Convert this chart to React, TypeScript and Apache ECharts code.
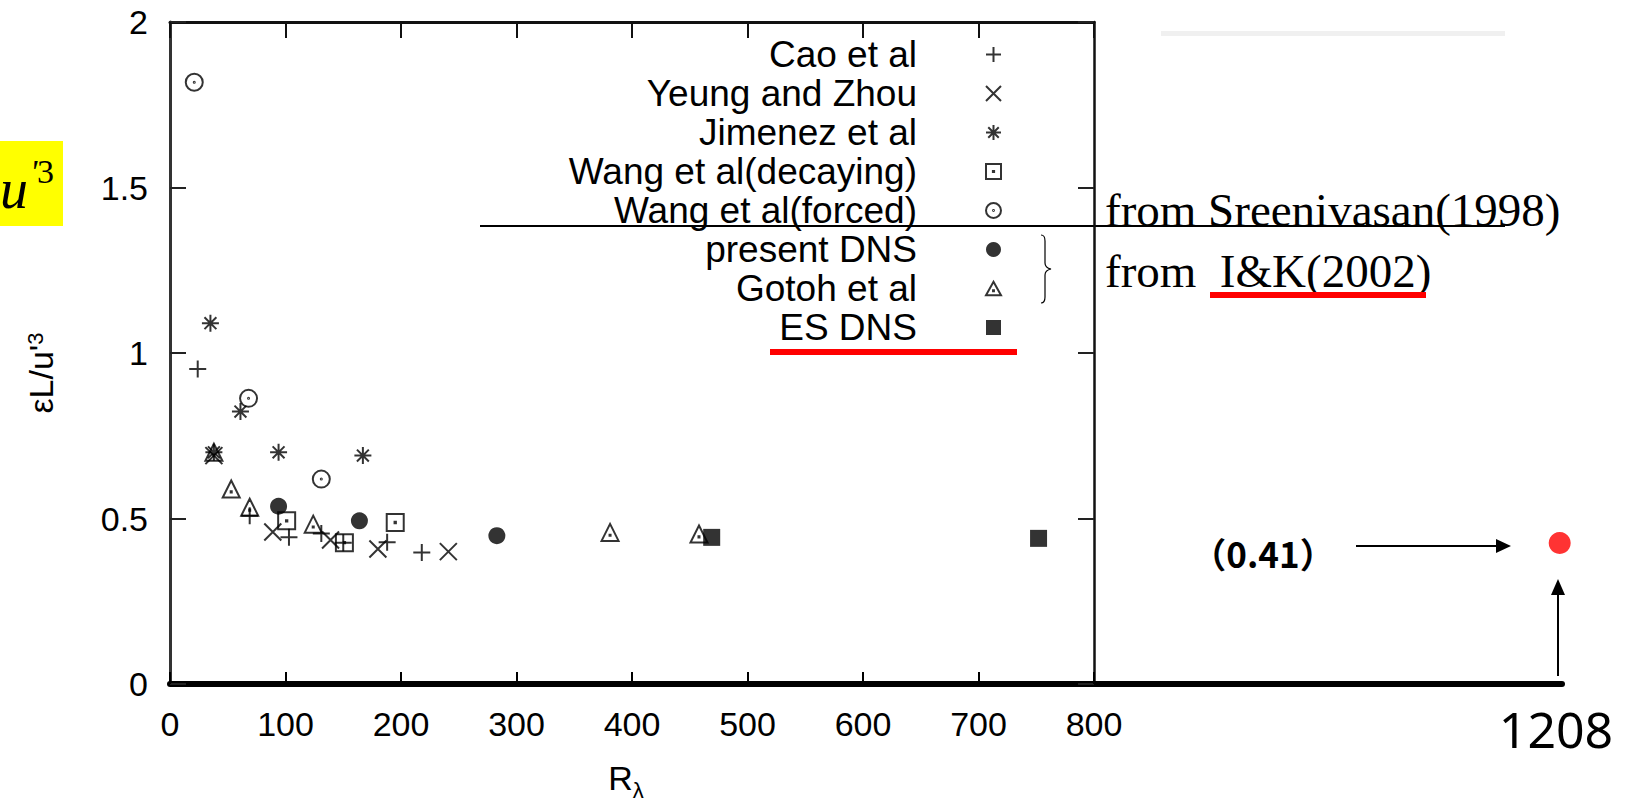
import React, { useEffect, useRef } from "react";
import * as echarts from "echarts";

// ---- data ----
const xTickValues = [0, 100, 200, 300, 400, 500, 600, 700, 800];
const yTickValues = [0, 0.5, 1, 1.5, 2];

const legendNames = [
  "Cao et al",
  "Yeung and Zhou",
  "Jimenez et al",
  "Wang et al(decaying)",
  "Wang et al(forced)",
  "present DNS",
  "Gotoh et al",
  "ES DNS",
];

const caoData = [[24, 0.952], [69, 0.508], [103, 0.443], [131, 0.455], [150, 0.427], [188, 0.428], [218, 0.397]];
const yeungData = [[38, 0.69], [89, 0.459], [139, 0.435], [180, 0.408], [241, 0.4]];
const jimenezData = [[35, 1.09], [61, 0.823], [38, 0.7], [94, 0.7], [167, 0.69]];
const wangDecayData = [[101, 0.493], [151, 0.427], [195, 0.488]];
const wangForcedData = [[21, 1.818], [68, 0.863], [131, 0.619]];
const presentData = [[94, 0.537], [164, 0.493], [283, 0.448]];
const gotohData = [[38, 0.7], [53, 0.589], [69, 0.534], [124, 0.483], [381, 0.458], [458, 0.453]];
const esData = [[469, 0.443], [752, 0.44]];
const esNewData = [[1208, 0.41]];

const P_PLUS = "path://M0,5L10,5M5,0L5,10";
const P_CROSS = "path://M0,0L10,10M10,0L0,10";
const P_STAR = "path://M0,5L10,5M5,0L5,10M1.5,1.5L8.5,8.5M8.5,1.5L1.5,8.5";
const P_SQ = "path://M0,0L10,0L10,10L0,10Z M4.6,4.6L5.4,4.6L5.4,5.4L4.6,5.4Z";
const P_CIRC = "path://M0,5A5,5,0,1,1,10,5A5,5,0,1,1,0,5Z M4.7,5A0.3,0.3,0,1,1,5.3,5A0.3,0.3,0,1,1,4.7,5Z";
const P_TRI = "path://M5,0L10,9L0,9Z M4.7,5.7L5.3,5.7L5.3,6.3L4.7,6.3Z";

let braceRegistered = false;
function registerBrace() {
  if (braceRegistered) return;
  braceRegistered = true;
  echarts.graphic.registerShape(
    "brace",
    echarts.graphic.extendPath(
      "M0,0 C3,0 4,2 4,6 L4,28 C4,31 5,33 10,34 C5,35 4,37 4,40 L4,62 C4,66 3,68 0,68",
      {}
    )
  );
}

const openStyle = { color: "rgba(0,0,0,0)", borderColor: "#000", borderWidth: 2 };

function buildOption() {
  const font = "Liberation Sans";
  const series: any[] = [
    { name: legendNames[0], data: caoData, symbol: P_PLUS, itemStyle: openStyle },
    { name: legendNames[1], data: yeungData, symbol: P_CROSS, itemStyle: openStyle },
    { name: legendNames[2], data: jimenezData, symbol: P_STAR, itemStyle: openStyle },
    { name: legendNames[3], data: wangDecayData, symbol: P_SQ, itemStyle: openStyle },
    { name: legendNames[4], data: wangForcedData, symbol: P_CIRC, itemStyle: openStyle },
    { name: legendNames[5], data: presentData, symbol: "circle", itemStyle: { color: "#000" } },
    { name: legendNames[6], data: gotohData, symbol: P_TRI, itemStyle: openStyle },
    { name: legendNames[7], data: esData, symbol: "rect", itemStyle: { color: "#000" } },
  ].map((s) => ({
    type: "scatter",
    xAxisIndex: 0,
    yAxisIndex: 0,
    symbolSize: 17,
    ...s,
  }));
  series.push({
    type: "scatter",
    name: "ES new",
    xAxisIndex: 2,
    yAxisIndex: 2,
    data: esNewData,
    symbol: "circle",
    symbolSize: 22,
    clip: false,
    itemStyle: { color: "#ff0000" },
  });

  return {
    animation: false,
    backgroundColor: "#fff",
    textStyle: { fontFamily: font },
    grid: [
      { left: 170, top: 22, width: 924, height: 662, outerBoundsMode: "none", containLabel: false },
      { left: 170, top: 340, width: 1392, height: 344, outerBoundsMode: "none", containLabel: false },
    ],
    legend: {
      data: legendNames,
      orient: "vertical",
      align: "right",
      right: 630,
      top: 35,
      padding: 0,
      itemGap: 0,
      itemWidth: 15,
      itemHeight: 15,
      selectedMode: false,
      itemStyle: { borderWidth: 2 },
      textStyle: {
        fontFamily: font,
        fontSize: 37,
        color: "#000",
        lineHeight: 39,
        padding: [0, 64, 0, 0],
      },
    },
    xAxis: [
      {
        type: "value",
        gridIndex: 0,
        min: 0,
        max: 800,
        interval: 100,
        position: "bottom",
        axisLine: { show: false, onZero: false },
        axisTick: { inside: true, length: 12, lineStyle: { color: "#000", width: 2 } },
        axisLabel: { fontSize: 34, color: "#000", margin: 23, fontFamily: font },
        splitLine: { show: false },
        name: "R{sub|λ}",
        nameLocation: "middle",
        nameGap: 77,
        nameTextStyle: {
          fontSize: 34,
          color: "#000",
          fontFamily: font,
          padding: [0, 12, 0, 0],
          rich: { sub: { fontSize: 22, verticalAlign: "bottom", padding: [0, 0, -6, 0], fontFamily: font, color: "#000" } },
        },
      },
      {
        type: "value",
        gridIndex: 0,
        min: 0,
        max: 800,
        interval: 100,
        position: "top",
        axisLine: { show: true, onZero: false, lineStyle: { color: "#111", width: 3 } },
        axisTick: { inside: true, length: 16, lineStyle: { color: "#111", width: 2 } },
        axisLabel: { show: false },
        splitLine: { show: false },
      },
      {
        type: "value",
        gridIndex: 1,
        min: 0,
        max: 1210,
        position: "bottom",
        axisLine: { show: true, onZero: false, lineStyle: { color: "#000", width: 6 } },
        axisTick: { show: false },
        axisLabel: { show: false },
        splitLine: { show: false },
      },
    ],
    yAxis: [
      {
        type: "value",
        gridIndex: 0,
        min: 0,
        max: 2,
        interval: 0.5,
        position: "left",
        axisLine: { show: true, onZero: false, lineStyle: { color: "#333", width: 3 } },
        axisTick: { inside: true, length: 16, lineStyle: { color: "#222", width: 2 } },
        axisLabel: { fontSize: 34, color: "#000", margin: 22, fontFamily: font },
        splitLine: { show: false },
        name: "εL/u'{sup|3}",
        nameLocation: "middle",
        nameRotate: 90,
        nameGap: 112,
        nameTextStyle: {
          fontSize: 34,
          color: "#000",
          fontFamily: font,
          padding: [0, 40, 0, 0],
          rich: { sup: { fontSize: 22, verticalAlign: "top", fontFamily: font, color: "#000" } },
        },
      },
      {
        type: "value",
        gridIndex: 0,
        min: 0,
        max: 2,
        interval: 0.5,
        position: "right",
        axisLine: { show: true, onZero: false, lineStyle: { color: "#111", width: 2.5 } },
        axisTick: { inside: true, length: 16, lineStyle: { color: "#222", width: 2 } },
        axisLabel: { show: false },
        splitLine: { show: false },
      },
      {
        type: "value",
        gridIndex: 1,
        min: 0,
        max: 1,
        show: false,
      },
    ],
    series,
    graphic: {
      elements: [
        // yellow highlighted formula fragment at the left edge
        { type: "rect", shape: { x: 0, y: 141, width: 63, height: 85 }, style: { fill: "#ffff00" } },
        { type: "text", x: 0, y: 189, style: { text: "u", fontFamily: "Liberation Serif", fontStyle: "italic", fontSize: 56, fill: "#000", align: "left", verticalAlign: "middle" } },
        { type: "text", x: 30, y: 171, style: { text: "'", fontFamily: "Liberation Serif", fontStyle: "italic", fontSize: 34, fill: "#000", align: "left", verticalAlign: "middle" } },
        { type: "text", x: 37, y: 171, style: { text: "3", fontFamily: "Liberation Serif", fontSize: 34, fill: "#000", align: "left", verticalAlign: "middle" } },
        // faint gray line top right
        { type: "rect", shape: { x: 1161, y: 31, width: 344, height: 5 }, style: { fill: "#f0f0f0" } },
        // black divider line
        { type: "line", shape: { x1: 480, y1: 226, x2: 1505, y2: 226 }, style: { stroke: "#000", lineWidth: 2 } },
        // source notes
        { type: "text", x: 1105, y: 233, style: { text: "from Sreenivasan(1998)", fontFamily: "Liberation Serif", fontSize: 47, fill: "#000", align: "left", verticalAlign: "bottom" } },
        { type: "text", x: 1105, y: 294, style: { text: "from  I&K(2002)", fontFamily: "Liberation Serif", fontSize: 47, fill: "#000", align: "left", verticalAlign: "bottom" } },
        { type: "rect", shape: { x: 1210, y: 292, width: 216, height: 6 }, style: { fill: "#ff0000" } },
        // brace
        { type: "brace", x: 1041, y: 235, style: { stroke: "#000", lineWidth: 1.2, fill: "none" } },
        // red underline under ES DNS
        { type: "rect", shape: { x: 770, y: 349, width: 247, height: 6 }, style: { fill: "#ff0000" } },
        // annotation for the new ES point
        { type: "text", x: 1263, y: 552, style: { text: "（0.41）", fontFamily: "Noto Sans CJK JP", fontWeight: "bold", fontSize: 35, fill: "#000", align: "center", verticalAlign: "middle" } },
        { type: "line", shape: { x1: 1356, y1: 546, x2: 1498, y2: 546 }, style: { stroke: "#000", lineWidth: 2 } },
        { type: "polygon", shape: { points: [[1496, 539], [1511, 546], [1496, 553]] }, style: { fill: "#000" } },
        { type: "line", shape: { x1: 1558, y1: 676, x2: 1558, y2: 593 }, style: { stroke: "#000", lineWidth: 2 } },
        { type: "polygon", shape: { points: [[1551, 595], [1558, 579], [1565, 595]] }, style: { fill: "#000" } },
        { type: "text", x: 1556, y: 729, style: { text: "1208", fontFamily: "Noto Sans", fontSize: 50, fill: "#000", align: "center", verticalAlign: "middle" } },
      ],
    },
  };
}

export default function App() {
  const ref = useRef<HTMLDivElement>(null);
  useEffect(() => {
    registerBrace();
    const chart = echarts.init(ref.current as HTMLDivElement, null, { renderer: "svg" });
    chart.setOption(buildOption() as any);
    return () => chart.dispose();
  }, []);
  return (
    <div
      ref={ref}
      style={{ position: "absolute", left: 0, top: 0, width: 1632, height: 803, background: "#fff" }}
    />
  );
}
